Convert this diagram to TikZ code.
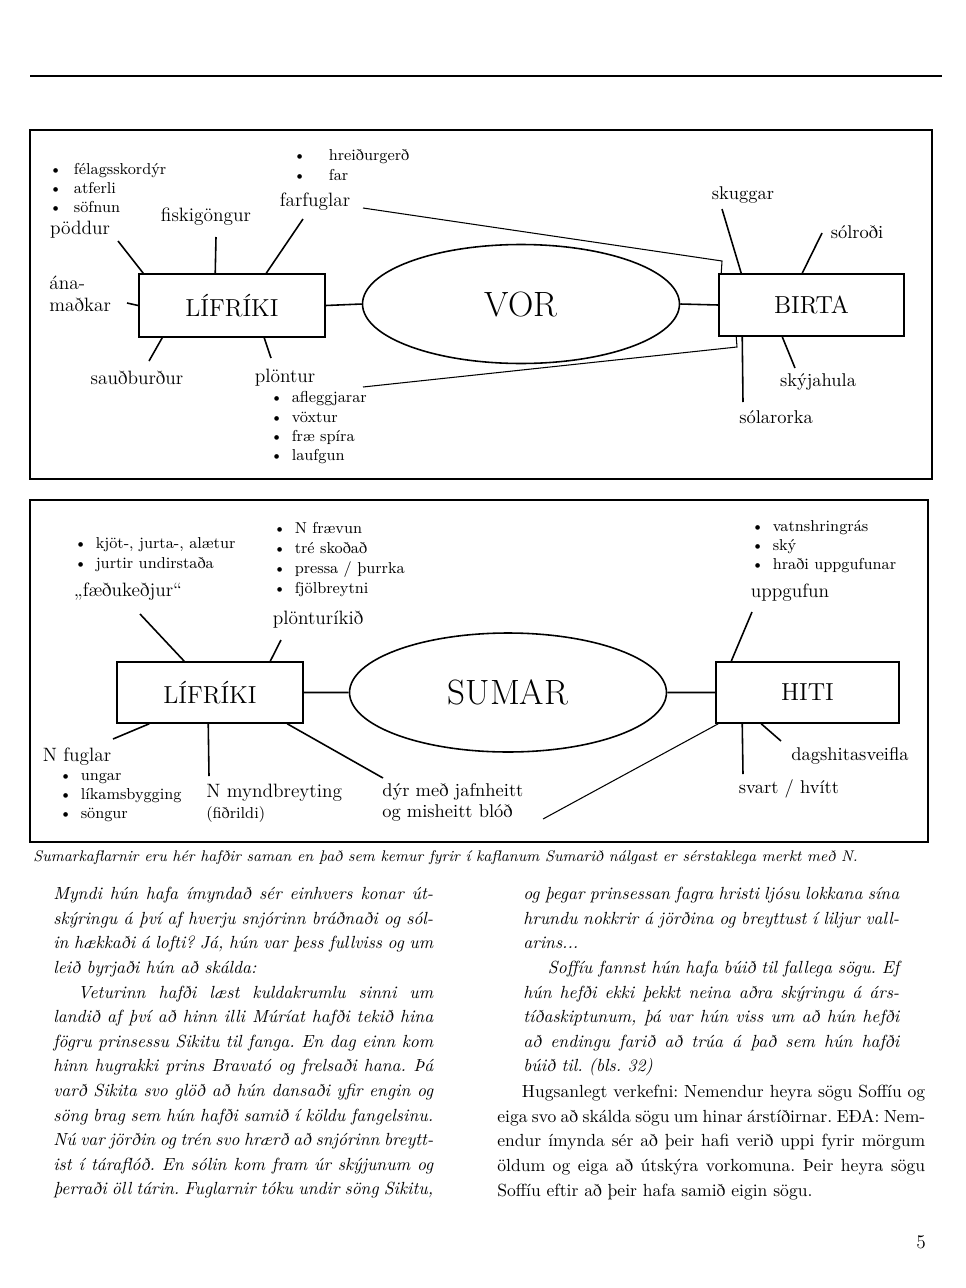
\documentclass[tikz,border=0pt]{standalone}
\usepackage{fontspec}
\usetikzlibrary{shapes.geometric,calc}
\newcommand{\bul}[1][5pt]{\textbullet\hspace{#1}}
\frenchspacing

\begin{document}
\begin{tikzpicture}[x=0.02cm, y=-0.02cm]
	\tikzset{
		box/.style = {rectangle, draw, line width=0.9pt, inner sep=0pt, font=\fontsize{14}{16}\selectfont},
		oval/.style = {ellipse, draw, line width=0.9pt, inner sep=0pt, minimum width=6.34cm, minimum height=2.38cm, font=\fontsize{20}{24}\selectfont},
		lab/.style = {inner sep=0pt, font=\fontsize{11}{13}\selectfont},
		labs/.style = {inner sep=0pt, font=\fontsize{10.5}{12}\selectfont},
		blist/.style = {inner sep=0pt, anchor=west, align=left, font=\fontsize{9}{11}\selectfont},
		txt/.style = {inner sep=0pt, anchor=north west, align=justify, font=\fontsize{10}{14}\selectfont}
	}
	\useasboundingbox (0,0) rectangle (966,1288);
	\draw[line width=0.8pt] (30,76) -- (942,76);
	% frames
	\draw[line width=0.8pt] (30,130) rectangle (932,479);
	\draw[line width=0.8pt] (30,500) rectangle (928,842);

	% vor
	\node[box, minimum width=3.72cm, minimum height=1.26cm] (lif1) at (232,305.5) {LÍFRÍKI};
	\node[oval] (vor) at (521,304) {VOR};
	\node[box, minimum width=3.7cm, minimum height=1.24cm] (bir) at (811.5,305) {BIRTA};
	\node[blist] (bp1) at (49,188) {\bul[6.8pt]félagsskordýr\\\bul[6.8pt]atferli\\\bul[6.8pt]söfnun};
	\node[blist, font=\fontsize{9}{11.4}\selectfont] (bp2) at (293,165) {\bul[13pt]hreiðurgerð\\\bul[13pt]far};
	\node[blist] (bp3) at (270,428) {\bul afleggjarar\\\bul vöxtur\\\bul fræ spíra\\\bul laufgun};
	\node[lab] (pod) at (80,230) {pöddur};
	\node[lab, anchor=west, align=left, font=\fontsize{11}{12.5}\selectfont] (ana) at (49,294) {ána-\\maðkar};
	\node[lab] (fisk) at (206,217) {fiskigöngur};
	\node[lab] (farf) at (315,202) {farfuglar};
	\node[lab] (saud) at (137,378) {sauðburður};
	\node[lab] (plon) at (285,378) {plöntur};
	\node[labs] (skug) at (743,195) {skuggar};
	\node[labs] (solr) at (857,232) {sólroði};
	\node[labs] (skyj) at (818,382) {skýjahula};
	\node[labs] (solo) at (776,417) {sólarorka};
	\coordinate (c-pod) at (118,241);
	\coordinate (c-ana) at (127,303);
	\coordinate (c-fisk) at (216,237);
	\coordinate (c-farf) at (303,219);
	\coordinate (c-saud) at (149,361);
	\coordinate (c-plon) at (271,358);
	\coordinate (c-skug) at (722,209);
	\coordinate (c-solr) at (822,233);
	\coordinate (c-skyj) at (795,368);
	\coordinate (c-solo) at (743,402);
	\coordinate (c-fun1) at (363,208);
	\coordinate (c-fun2) at (722,261);
	\coordinate (c-fun3) at (363,387);
	\coordinate (c-fun4) at (737,347);
	\draw[line width=0.9pt]
	(c-pod) -- ($(lif1.north west)+(5,0)$)
	(c-fisk) -- ($(lif1.north west)+(77,0)$)
	(c-farf) -- ($(lif1.north west)+(128,0)$)
	(c-ana) -- (lif1.west)
	(c-saud) -- ($(lif1.south west)+(24,0)$)
	(c-plon) -- ($(lif1.south west)+(126,0)$)
	(lif1.east) -- (vor.west)
	(vor.east) -- (bir.west)
	(c-skug) -- ($(bir.north west)+(23,0)$)
	(c-solr) -- ($(bir.north west)+(84,0)$)
	(c-skyj) -- ($(bir.south west)+(64,0)$)
	(c-solo) -- ($(bir.south west)+(24,0)$);
	\draw[line width=0.6pt] (c-fun1) -- (c-fun2) -- ($(bir.north west)+(3,0)$);
	\draw[line width=0.6pt] (c-fun3) -- (c-fun4) -- ($(bir.south west)+(18,0)$);

	% sumar
	\node[box, minimum width=3.72cm, minimum height=1.22cm] (lif2) at (210,692.5) {LÍFRÍKI};
	\node[oval] (sum) at (508,692.5) {SUMAR};
	\node[box, minimum width=3.66cm, minimum height=1.22cm] (hit) at (807.5,692.5) {HITI};
	\node[blist] (bp4) at (74,554.5) {\bul kjöt-, jurta-, alætur\\\bul jurtir undirstaða};
	\node[blist, font=\fontsize{9}{11.5}\selectfont] (bp5) at (273,559.5) {\bul N frævun\\\bul tré skoðað\\\bul pressa / þurrka\\\bul fjölbreytni};
	\node[blist] (bp6) at (59,797.5) {\bul ungar\\\bul líkamsbygging\\\bul söngur};
	\node[blist] (bp7) at (751,546.5) {\bul vatnshringrás\\\bul ský\\\bul hraði uppgufunar};
	\node[lab] (faed) at (128,592) {„fæðukeðjur“};
	\node[lab] (plri) at (318,620) {plönturíkið};
	\node[lab] (nfug) at (77,757) {N fuglar};
	\node[lab, anchor=west] (nmyn) at (206,793) {N myndbreyting};
	\node[inner sep=0pt, anchor=west, font=\fontsize{9}{11}\selectfont] (fidr) at (206,815) {(fiðrildi)};
	\node[labs, anchor=west, align=left] (dyr) at (382,802) {dýr með jafnheitt\\og misheitt blóð};
	\node[lab] (uppg) at (790,593) {uppgufun};
	\node[labs] (dags) at (850,756) {dagshitasveifla};
	\node[labs] (svar) at (789,789) {svart / hvítt};
	\coordinate (c-faed) at (140,614);
	\coordinate (c-plri) at (281,640);
	\coordinate (c-nfug) at (113,739);
	\coordinate (c-nmyn) at (209,776);
	\coordinate (c-dyr) at (383,778);
	\coordinate (c-blod) at (543,819);
	\coordinate (c-uppg) at (752,612);
	\coordinate (c-dags) at (781,741);
	\coordinate (c-svar) at (743,774);
	\draw[line width=0.9pt]
	(c-faed) -- ($(lif2.north west)+(68,0)$)
	(c-plri) -- ($(lif2.north west)+(154,0)$)
	(c-nfug) -- ($(lif2.south west)+(33,0)$)
	(c-nmyn) -- ($(lif2.south west)+(92,0)$)
	(c-dyr) -- ($(lif2.south west)+(171,0)$)
	(lif2.east) -- (sum.west)
	(sum.east) -- (hit.west)
	(c-uppg) -- ($(hit.north west)+(16,0)$)
	(c-dags) -- ($(hit.south west)+(46,0)$)
	(c-svar) -- ($(hit.south west)+(27,0)$);
	\draw[line width=0.6pt] (c-blod) -- ($(hit.south west)+(3,0)$);

	% texti
	\node[inner sep=0pt, anchor=base west, font=\fontsize{8.8}{10}\selectfont\itshape] (cap) at (33,861)
	{Sumarkaflarnir eru hér hafðir saman en það sem kemur fyrir í kaflanum Sumarið nálgast er sérstaklega merkt með N.};
	\node[txt, text width=7.6cm] (col1) at (53,887) {\itshape\parindent=0pt\tolerance=10000\hyphenpenalty=10000
	Myndi hún hafa ímyndað sér einhvers konar út-\linebreak
	skýringu á því af hverju snjórinn bráðnaði og sól-\linebreak
	in hækkaði á lofti? Já, hún var þess fullviss og um\linebreak
	leið byrjaði hún að skálda:\par
	\hspace*{14pt}Veturinn hafði læst kuldakrumlu sinni um\linebreak
	landið af því að hinn illi Múríat hafði tekið hina\linebreak
	fögru prinsessu Sikitu til fanga. En dag einn kom\linebreak
	hinn hugrakki prins Bravató og frelsaði hana. Þá\linebreak
	varð Sikita svo glöð að hún dansaði yfir engin og\linebreak
	söng brag sem hún hafði samið í köldu fangelsinu.\linebreak
	Nú var jörðin og trén svo hrærð að snjórinn breytt-\linebreak
	ist í táraflóð. En sólin kom fram úr skýjunum og\linebreak
	þerraði öll tárin. Fuglarnir tóku undir söng Sikitu,\parfillskip=0pt};
	\node[txt, text width=7.52cm] (col2) at (523,887) {\itshape\parindent=0pt\tolerance=10000\hyphenpenalty=10000
	og þegar prinsessan fagra hristi ljósu lokkana sína\linebreak
	hrundu nokkrir á jörðina og breyttust í liljur vall-\linebreak
	arins...\par
	\hspace*{14pt}Soffíu fannst hún hafa búið til fallega sögu. Ef\linebreak
	hún hefði ekki þekkt neina aðra skýringu á árs-\linebreak
	tíðaskiptunum, þá var hún viss um að hún hefði\linebreak
	að endingu farið að trúa á það sem hún hafði\linebreak
	búið til. (bls. 32)};
	\node[txt, text width=8.56cm] (col3) at (497,1085) {\parindent=0pt\tolerance=10000\hyphenpenalty=10000
	\hspace*{14pt}Hugsanlegt verkefni: Nemendur heyra sögu Soffíu og\linebreak
	eiga svo að skálda sögu um hinar árstíðirnar. EÐA: Nem-\linebreak
	endur ímynda sér að þeir hafi verið uppi fyrir mörgum\linebreak
	öldum og eiga að útskýra vorkomuna. Þeir heyra sögu\linebreak
	Soffíu eftir að þeir hafa samið eigin sögu.};
	\node[lab] (pnum) at (921,1242) {5};
\end{tikzpicture}
\end{document}
